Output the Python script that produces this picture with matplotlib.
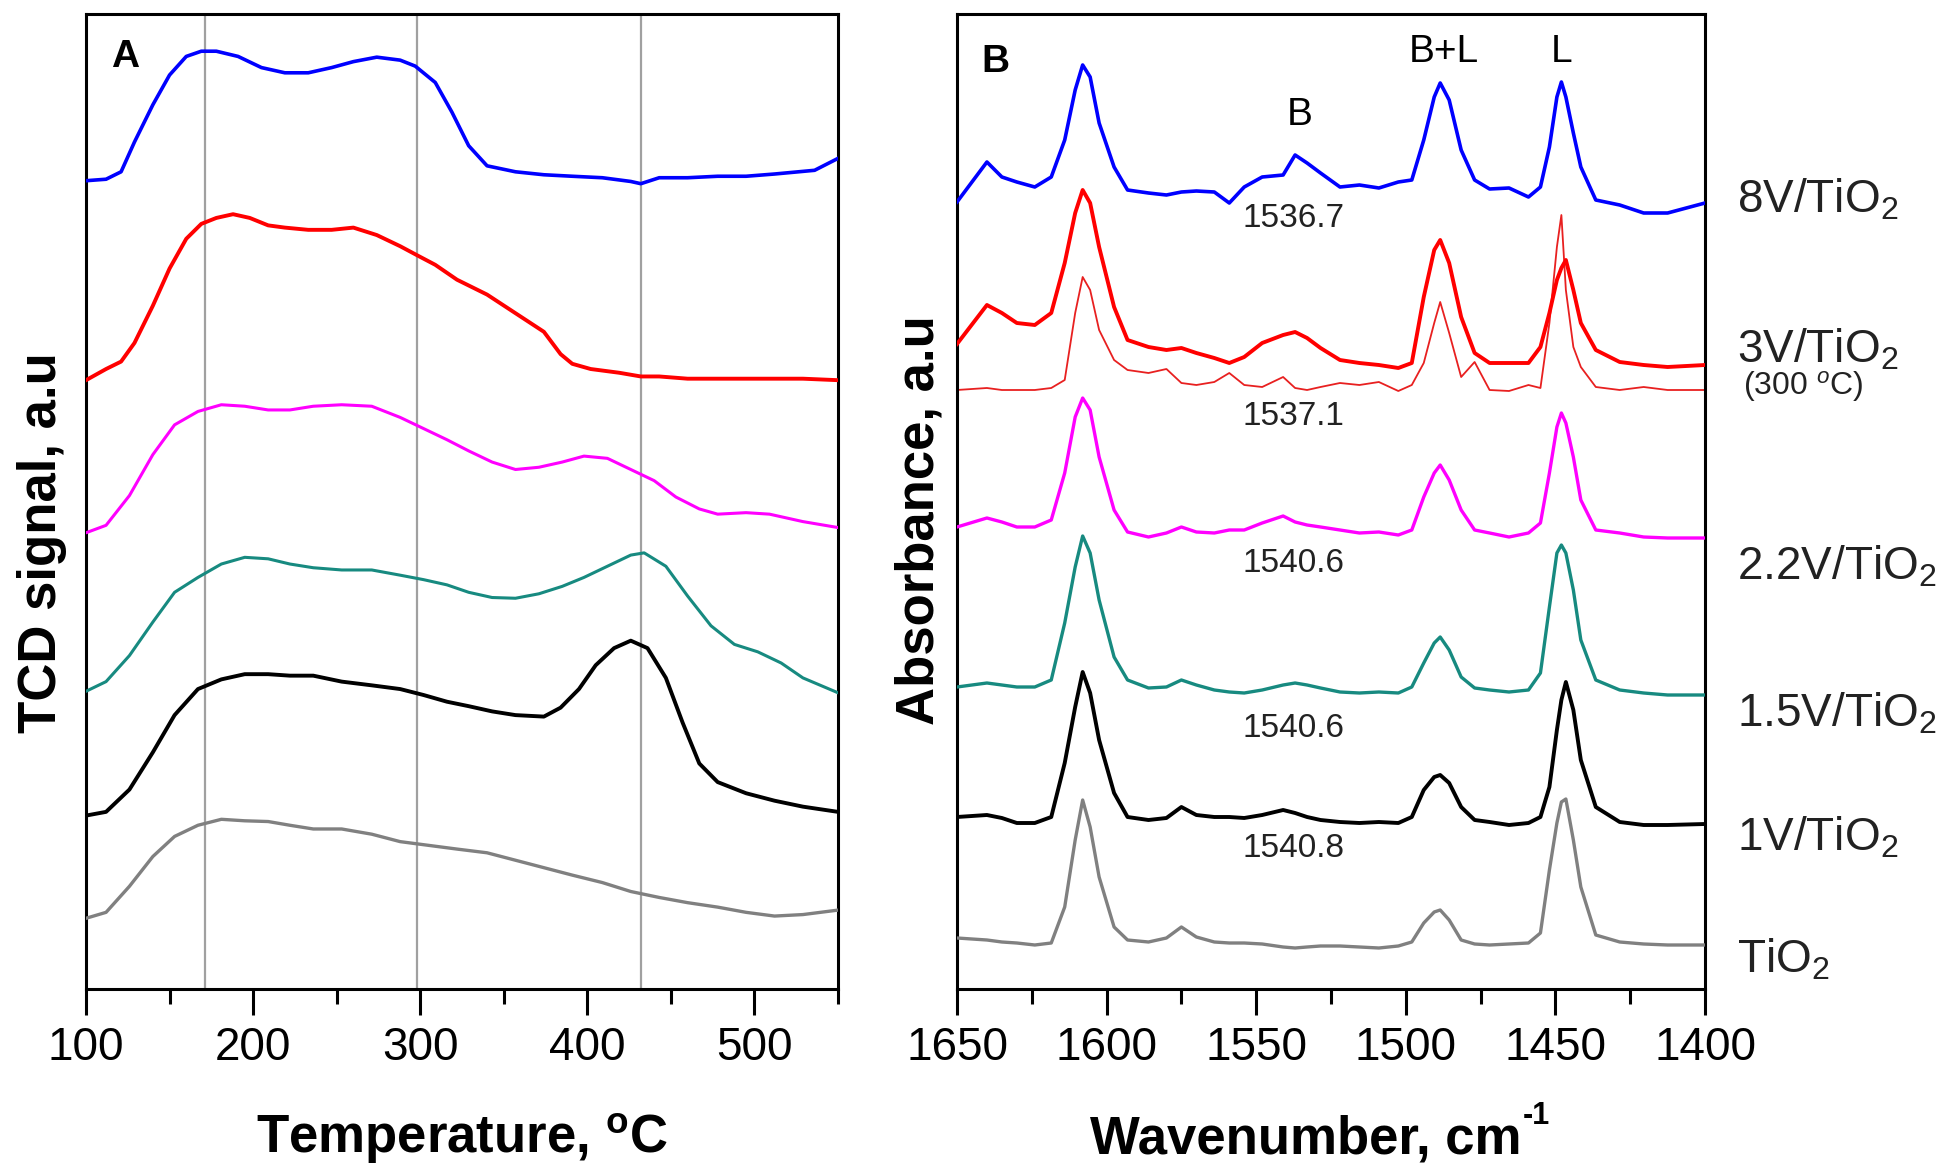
import numpy as np
import matplotlib
matplotlib.use('Agg')
import matplotlib.pyplot as plt

plt.rcParams['font.family'] = 'Liberation Sans'
plt.rcParams['mathtext.fontset'] = 'custom'
plt.rcParams['mathtext.rm'] = 'Liberation Sans'
plt.rcParams['mathtext.it'] = 'Liberation Sans:italic'
plt.rcParams['mathtext.bf'] = 'Liberation Sans:bold'

# ---- panel A: TPD (TCD signal vs temperature), curves already offset ----
temp_8v = [100, 112, 121, 129, 140, 150, 160, 169, 178, 191, 205, 219, 233, 247, 260, 274, 288, 297,
           309, 319, 329, 340, 357, 374, 391, 409, 426, 432, 443, 460, 478, 495, 512, 536, 550]
tcd_8v = [1086, 1088, 1098, 1138, 1188, 1228, 1253, 1260, 1260, 1253, 1238, 1231, 1231, 1238, 1246,
          1252, 1248, 1240, 1218, 1178, 1133, 1106, 1098, 1094, 1092, 1090, 1085, 1082, 1090, 1090,
          1092, 1092, 1095, 1100, 1116]

temp_3v = [100, 112, 121, 129, 140, 150, 160, 169, 178, 188, 198, 209, 219, 233, 247, 260, 274, 288,
           298, 309, 322, 340, 357, 374, 384, 391, 402, 419, 432, 443, 460, 478, 495, 512, 529, 550]
tcd_3v = [818, 833, 843, 868, 918, 968, 1008, 1028, 1036, 1041, 1036, 1026, 1023, 1020, 1020, 1023,
          1013, 998, 986, 973, 953, 933, 908, 883, 853, 840, 833, 828, 823, 823, 820, 820, 820, 820,
          820, 818]

temp_22v = [100, 112, 126, 140, 153, 167, 181, 195, 209, 222, 236, 253, 271, 288, 302, 316, 329, 343,
            357, 371, 385, 398, 412, 426, 440, 453, 467, 478, 495, 509, 529, 550]
tcd_22v = [613, 623, 663, 718, 758, 776, 785, 783, 778, 778, 783, 785, 783, 768, 753, 738, 723, 708,
           698, 701, 708, 716, 713, 698, 683, 661, 645, 638, 640, 638, 628, 620]

temp_15v = [100, 112, 126, 140, 153, 167, 181, 195, 209, 222, 236, 253, 271, 288, 302, 316, 329, 343,
            357, 371, 385, 398, 412, 426, 434, 447, 460, 474, 488, 502, 516, 529, 550]
tcd_15v = [400, 413, 448, 493, 533, 553, 571, 580, 578, 571, 566, 563, 563, 556, 550, 543, 533, 526,
           525, 531, 541, 553, 568, 583, 586, 568, 528, 488, 463, 453, 438, 418, 398]

temp_1v = [100, 112, 126, 140, 153, 167, 181, 195, 209, 222, 236, 253, 271, 288, 302, 316, 329, 343,
           357, 374, 384, 395, 405, 416, 426, 436, 447, 457, 467, 478, 495, 512, 529, 550]
tcd_1v = [233, 238, 268, 318, 368, 403, 416, 423, 423, 421, 421, 413, 408, 403, 395, 386, 380, 373,
          368, 366, 378, 403, 435, 458, 468, 458, 418, 358, 303, 278, 263, 253, 245, 238]

temp_tio2 = [100, 112, 126, 140, 153, 167, 181, 195, 209, 222, 236, 253, 271, 288, 305, 322, 340,
             357, 374, 391, 409, 426, 443, 460, 478, 495, 512, 529, 550]
tcd_tio2 = [95, 103, 138, 178, 205, 220, 228, 226, 225, 220, 215, 215, 208, 198, 193, 188, 183, 173,
            163, 153, 143, 131, 123, 116, 110, 103, 98, 100, 106]

guide_temps = [171, 298, 432]

# ---- panel B: pyridine IR spectra, curves already offset ----
wavenumber = [1650, 1640, 1635, 1630, 1624, 1618.5, 1614, 1610.5, 1608, 1605.5, 1602.5, 1597.5, 1593,
              1586, 1580, 1575, 1570, 1564, 1559, 1554, 1548, 1541, 1537, 1533, 1528.5, 1522, 1515.5,
              1509, 1502.5, 1498, 1494, 1490.5, 1488.5, 1485.5, 1481.5, 1477, 1472, 1465.5, 1459,
              1455, 1452, 1449.5, 1448, 1446.5, 1444, 1441.5, 1436.5, 1428.5, 1420.5, 1412.5, 1400]
abs_8v = [785, 825, 810, 805, 800, 810, 847, 897, 922, 910, 864, 820, 797, 794, 792, 795, 796, 795,
          784, 800, 810, 812, 832, 824, 814, 800, 802, 799, 805, 807, 847, 890, 904, 887, 837, 807,
          798, 799, 790, 800, 840, 890, 905, 890, 854, 820, 787, 782, 774, 774, 784]
abs_3v = [643, 682, 674, 664, 662, 674, 724, 774, 797, 784, 740, 680, 647, 640, 637, 639, 634, 629,
          624, 630, 644, 652, 655, 649, 639, 627, 624, 622, 619, 624, 690, 737, 747, 724, 670, 634,
          624, 624, 624, 640, 674, 707, 719, 727, 697, 664, 637, 625, 622, 620, 622]
abs_3v_300 = [597, 599, 597, 597, 597, 599, 607, 674, 710, 697, 657, 627, 617, 614, 618, 604, 602, 605,
              614, 602, 600, 610, 599, 597, 600, 604, 602, 605, 596, 602, 624, 664, 685, 654, 610,
              625, 597, 596, 602, 599, 664, 740, 772, 697, 640, 620, 600, 597, 600, 597, 597]
abs_22v = [460, 469, 465, 460, 460, 467, 514, 570, 589, 577, 530, 477, 455, 450, 454, 460, 455, 454,
           457, 457, 464, 471, 465, 462, 460, 457, 454, 455, 452, 457, 490, 514, 522, 507, 477, 457,
           454, 450, 454, 464, 514, 560, 574, 564, 530, 487, 457, 454, 450, 449, 449]
abs_15v = [300, 304, 302, 300, 300, 307, 364, 420, 451, 434, 387, 330, 307, 299, 300, 307, 302, 297,
           295, 294, 297, 302, 304, 302, 299, 295, 294, 295, 294, 300, 324, 344, 350, 337, 310, 299,
           297, 295, 297, 314, 380, 434, 442, 434, 397, 347, 307, 297, 294, 292, 292]
abs_1v = [170, 172, 169, 164, 164, 170, 224, 280, 315, 294, 247, 194, 170, 167, 169, 180, 172, 170,
          170, 169, 172, 177, 174, 170, 167, 165, 164, 165, 164, 170, 197, 210, 212, 204, 180, 167,
          165, 162, 164, 170, 200, 257, 287, 305, 277, 227, 180, 165, 162, 162, 163]
abs_tio2 = [49, 47, 45, 44, 42, 44, 80, 147, 187, 160, 110, 60, 47, 45, 49, 60, 50, 45, 44, 44, 43,
            40, 39, 40, 41, 41, 40, 39, 41, 45, 64, 75, 77, 67, 47, 43, 42, 43, 44, 54, 117, 164,
            185, 188, 147, 100, 52, 45, 43, 42, 42]

band_labels = ['1536.7', '1537.1', '1540.6', '1540.6', '1540.8']
band_label_y = [760, 562, 415, 250, 130]

sample_names = ['8V/TiO$_2$', '3V/TiO$_2$', '2.2V/TiO$_2$', '1.5V/TiO$_2$', '1V/TiO$_2$', 'TiO$_2$']
name_baseline_px = [212, 362, 579, 727, 851, 973]

colors = ['#0000ff', '#ff0000', '#ff00ff', '#178a80', '#000000', '#808080']

W, H = 1946, 1169
fig = plt.figure(figsize=(W / 100, H / 100), dpi=100)
axA = fig.add_axes([86 / W, 1 - 989 / H, (838 - 86) / W, (989 - 14) / H])
axB = fig.add_axes([957 / W, 1 - 989 / H, (1705 - 957) / W, (989 - 14) / H])


def style_axis(ax):
    for s in ax.spines.values():
        s.set_linewidth(2.2)
    ax.tick_params(axis='x', which='major', direction='out', length=19, width=2.2,
                   pad=8, labelsize=33)
    ax.tick_params(axis='x', which='minor', direction='out', length=11, width=2.2)
    ax.set_yticks([])


# panel A
for t in guide_temps:
    axA.axvline(t, color='#a0a0a0', lw=1.6, zorder=1)
a_curves = [(temp_8v, tcd_8v), (temp_3v, tcd_3v), (temp_22v, tcd_22v),
            (temp_15v, tcd_15v), (temp_1v, tcd_1v), (temp_tio2, tcd_tio2)]
a_widths = [2.6, 2.8, 2.2, 2.2, 2.8, 2.4]
for (t, s), c, w in zip(a_curves, colors, a_widths):
    axA.plot(t, s, color=c, lw=w, zorder=3, solid_joinstyle='round')
axA.set_xlim(100, 550)
axA.set_ylim(0, 1310)
axA.set_xticks(np.arange(100, 501, 100))
axA.set_xticks(np.arange(150, 551, 100), minor=True)
style_axis(axA)
axA.text(0.033, 0.946, 'A', transform=axA.transAxes, fontsize=28, fontweight='bold')

# panel B
b_curves = [abs_8v, abs_3v, abs_22v, abs_15v, abs_1v, abs_tio2]
b_widths = [2.6, 2.8, 2.4, 2.4, 2.8, 2.4]
for s, c, w in zip(b_curves, colors, b_widths):
    axB.plot(wavenumber, s, color=c, lw=w, zorder=3, solid_joinstyle='round')
axB.plot(wavenumber, abs_3v_300, color='#e82020', lw=1.3, zorder=2)
axB.set_xlim(1650, 1400)
axB.set_ylim(-2, 973)
axB.set_xticks(np.arange(1650, 1399, -50))
axB.set_xticks(np.arange(1625, 1400, -50), minor=True)
style_axis(axB)
axB.text(0.032, 0.9405, 'B', transform=axB.transAxes, fontsize=28, fontweight='bold')
axB.text(1535.4, 862, 'B', fontsize=28, ha='center', va='baseline')
axB.text(1487.2, 925, 'B+L', fontsize=28, ha='center', va='baseline')
axB.text(1448.1, 925, 'L', fontsize=28, ha='center', va='baseline')
for lab, y in zip(band_labels, band_label_y):
    axB.text(1537.4, y, lab, fontsize=24, ha='center', va='baseline', color='#222222')

# sample names right of panel B
for name, yb in zip(sample_names, name_baseline_px):
    fig.text(1737 / W, 1 - yb / H, name, fontsize=33, ha='left', va='baseline', color='#222222')
fig.text(1743 / W, 1 - 395 / H, '(300 $^o$C)', fontsize=23, ha='left', va='baseline',
         color='#222222')

# axis labels
fig.text(462 / W, 1 - 1153 / H, r'Temperature, $^{\mathbf{o}}$C', fontsize=38,
         fontweight='bold', ha='center', va='baseline')
fig.text(1090 / W, 1 - 1153 / H, 'Wavenumber, cm', fontsize=38,
         fontweight='bold', ha='left', va='baseline')
fig.text(1523 / W, 1 - 1124 / H, '-1', fontsize=22, fontweight='bold',
         ha='left', va='baseline')
fig.text(42 / W, 1 - 543 / H, 'TCD signal, a.u', fontsize=38, fontweight='bold',
         rotation=90, ha='center', va='center')
fig.text(920 / W, 1 - 520 / H, 'Absorbance, a.u', fontsize=38, fontweight='bold',
         rotation=90, ha='center', va='center')

fig.savefig('out.png', dpi=100)
